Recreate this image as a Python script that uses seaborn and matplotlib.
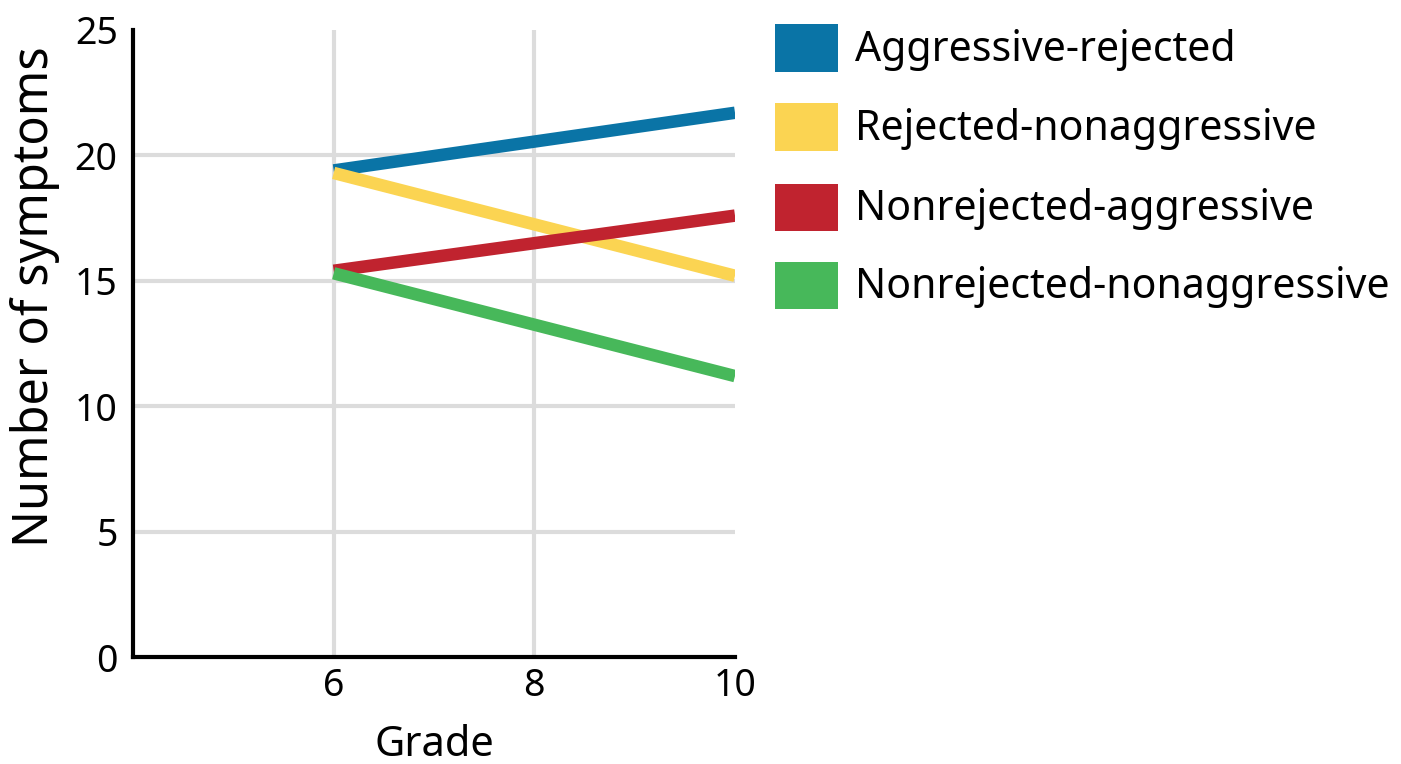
import matplotlib
matplotlib.use("Agg")
import matplotlib.pyplot as plt
import seaborn as sns
import pandas as pd
from matplotlib.patches import Rectangle

# Data
grades = [6, 10]
groups = ["Aggressive-rejected", "Rejected-nonaggressive",
          "Nonrejected-aggressive", "Nonrejected-nonaggressive"]
aggressive_rejected = [19.4, 21.7]
rejected_nonaggressive = [19.3, 15.2]
nonrejected_aggressive = [15.4, 17.6]
nonrejected_nonaggressive = [15.3, 11.2]
colors = ["#0a74a6", "#fbd452", "#c0232f", "#47b85a"]
x_ticks = [6, 8, 10]
y_ticks = [0, 5, 10, 15, 20, 25]

series = [aggressive_rejected, rejected_nonaggressive,
          nonrejected_aggressive, nonrejected_nonaggressive]
rows = []
for g, vals in zip(groups, series):
    for x, v in zip(grades, vals):
        rows.append({"Grade": x, "Symptoms": v, "Group": g})
df = pd.DataFrame(rows)

sns.set_theme(style="white")
plt.rcParams["font.family"] = ["Noto Sans", "DejaVu Sans"]
plt.rcParams["text.color"] = "black"

W, H = 1401, 764
fig = plt.figure(figsize=(W / 100, H / 100), dpi=100)
ax = fig.add_axes([133 / W, 1 - 657 / H, (735 - 133) / W, (657 - 30) / H])

# grid lines
for yv in [5, 10, 15, 20]:
    ax.axhline(yv, color="#dcdcdc", lw=3, zorder=0)
for xv in [6, 8]:
    ax.axvline(xv, color="#dcdcdc", lw=3, zorder=0)

sns.lineplot(data=df, x="Grade", y="Symptoms", hue="Group",
             hue_order=groups, palette=colors, lw=9, ax=ax,
             legend=False, solid_capstyle="butt")

ax.set_xlim(4, 10)
ax.set_ylim(0, 25)
ax.set_xticks(x_ticks)
ax.set_yticks(y_ticks)
ax.tick_params(axis="both", length=0, labelsize=27, colors="black")
ax.tick_params(axis="x", pad=7)
ax.tick_params(axis="y", pad=11)
for s in ["top", "right"]:
    ax.spines[s].set_visible(False)
for s in ["left", "bottom"]:
    ax.spines[s].set_color("black")
    ax.spines[s].set_linewidth(3)
ax.set_xlabel("Grade", fontsize=30, color="black")
ax.set_ylabel("Number of symptoms", fontsize=35, color="black")
ax.xaxis.set_label_coords(0.5, -(745 - 657) / 627, transform=ax.transAxes)
ax.yaxis.set_label_coords(-(133 - 35) / 602, (657 - 297) / 627)
ax.xaxis.label.set_va("center")
ax.yaxis.label.set_va("center")

# legend (drawn from groups / colors)
row_centers = [48, 127, 207, 285]
for yc, g, c in zip(row_centers, groups, colors):
    fig.add_artist(Rectangle((775 / W, 1 - (yc + 23.5) / H), 63 / W, 47 / H,
                             transform=fig.transFigure, facecolor=c,
                             edgecolor="none"))
    fig.text(855 / W, 1 - (yc + 2) / H, g, fontsize=29.5, color="black",
             va="center", ha="left")

fig.savefig("out.png", dpi=100)
